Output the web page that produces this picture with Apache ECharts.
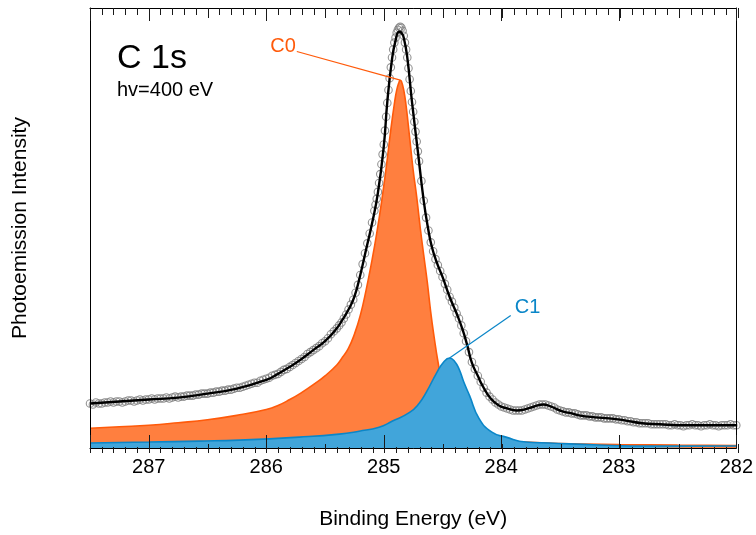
<!DOCTYPE html>
<html>
<head>
<meta charset="utf-8">
<script src="https://cdn.jsdelivr.net/npm/echarts@6/dist/echarts.min.js"></script>
<style>
  html, body { margin: 0; padding: 0; background: #fff; }
  #main { width: 756px; height: 535px; }
</style>
</head>
<body>
<div id="main"></div>
<script>
// C 1s core-level spectrum, hv = 400 eV
// Binding energy (eV) and intensity (arb. units)

// Measured points
const measE = [
  287.500, 287.475, 287.450, 287.425, 287.400, 287.375, 287.350, 287.325, 287.300, 287.275,
  287.250, 287.225, 287.200, 287.175, 287.150, 287.125, 287.100, 287.075, 287.050, 287.025,
  287.000, 286.975, 286.950, 286.925, 286.900, 286.875, 286.850, 286.825, 286.800, 286.775,
  286.750, 286.725, 286.700, 286.675, 286.650, 286.625, 286.600, 286.575, 286.550, 286.525,
  286.500, 286.475, 286.450, 286.425, 286.400, 286.375, 286.350, 286.325, 286.300, 286.275,
  286.250, 286.225, 286.200, 286.175, 286.150, 286.125, 286.100, 286.075, 286.050, 286.025,
  286.000, 285.975, 285.950, 285.925, 285.900, 285.875, 285.850, 285.825, 285.800, 285.775,
  285.750, 285.725, 285.700, 285.675, 285.650, 285.625, 285.600, 285.575, 285.550, 285.525,
  285.500, 285.475, 285.450, 285.425, 285.400,
  285.38, 285.36, 285.34, 285.32, 285.30, 285.28, 285.26, 285.24, 285.22, 285.20,
  285.18, 285.16, 285.14, 285.12, 285.10, 285.08,
  285.07, 285.06, 285.05, 285.04, 285.03, 285.02, 285.01, 285.00, 284.99, 284.98,
  284.97, 284.96, 284.95, 284.94, 284.93, 284.92, 284.91, 284.90, 284.89, 284.88,
  284.87, 284.86, 284.85, 284.84, 284.83, 284.82, 284.81, 284.80, 284.79, 284.78,
  284.77, 284.76, 284.75, 284.74, 284.73, 284.72, 284.71, 284.70,
  284.68, 284.66, 284.64, 284.62, 284.60, 284.58, 284.56, 284.54, 284.52, 284.50,
  284.48, 284.46, 284.44, 284.42, 284.40, 284.38, 284.36, 284.34, 284.32, 284.30,
  284.275, 284.250, 284.225, 284.200, 284.175, 284.150, 284.125, 284.100, 284.075, 284.050,
  284.025, 284.000, 283.975, 283.950, 283.925, 283.900, 283.875, 283.850, 283.825, 283.800,
  283.775, 283.750, 283.725, 283.700, 283.675, 283.650, 283.625, 283.600, 283.575, 283.550,
  283.525, 283.500, 283.475, 283.450, 283.425, 283.400, 283.375, 283.350, 283.325, 283.300,
  283.275, 283.250, 283.225, 283.200, 283.175, 283.150, 283.125, 283.100, 283.075, 283.050,
  283.025, 283.000, 282.975, 282.950, 282.925, 282.900, 282.875, 282.850, 282.825, 282.800,
  282.775, 282.750, 282.725, 282.700, 282.675, 282.650, 282.625, 282.600, 282.575, 282.550,
  282.525, 282.500, 282.475, 282.450, 282.425, 282.400, 282.375, 282.350, 282.325, 282.300,
  282.275, 282.250, 282.225, 282.200, 282.175, 282.150, 282.125, 282.100, 282.075, 282.050,
  282.025, 282.000
];
const measI = [
  45, 44, 46, 45, 45, 46, 46, 47, 46, 47,
  47, 46, 47, 48, 48, 47, 48, 49, 48, 49,
  49, 50, 49, 50, 50, 50, 51, 50, 51, 52,
  51, 52, 52, 53, 53, 53, 54, 54, 55, 55,
  55, 56, 56, 57, 57, 58, 58, 59, 59, 60,
  61, 61, 62, 63, 64, 65, 66, 66, 68, 69,
  70, 71, 73, 74, 75, 77, 79, 80, 82, 84,
  86, 88, 90, 92, 95, 97, 99, 101, 103, 106,
  108, 111, 115, 118, 121,
  124, 127, 131, 135, 140, 145, 150, 157, 165, 175,
  186, 197, 207, 217, 228, 240,
  246, 252, 259, 268, 277, 287, 297, 307, 321, 335,
  349, 362, 374, 385, 395, 403, 410, 415, 420, 423,
  425, 426, 425, 422, 417, 410, 403, 395, 384, 373,
  361, 350, 340, 330, 320, 310, 300, 290,
  270, 250, 233, 220, 208, 199, 191, 185, 179, 173,
  166, 160, 153, 148, 142, 136, 131, 124, 116, 108,
  97, 87, 80, 73, 67, 61, 56, 52, 49, 46,
  44, 42, 41, 40, 39, 38, 38, 38, 38, 39,
  40, 41, 42, 43, 44, 44, 44, 43, 42, 41,
  39, 38, 37, 36, 36, 35, 35, 34, 33, 33,
  33, 32, 32, 31, 31, 31, 30, 30, 30, 30,
  29, 29, 28, 28, 27, 27, 26, 26, 25, 25,
  25, 25, 24, 24, 24, 24, 24, 24, 23, 23,
  24, 23, 23, 22, 23, 23, 24, 23, 23, 22,
  23, 23, 24, 23, 23, 22, 23, 23, 23, 24,
  23, 23
];

// Total fit envelope
const fitE = [
  287.50, 287.25, 287.00, 286.75, 286.50, 286.25, 286.00, 285.90, 285.80, 285.70,
  285.60, 285.50, 285.40, 285.35, 285.30, 285.25, 285.20, 285.15, 285.10, 285.05,
  285.00, 284.97, 284.93, 284.90, 284.87, 284.85, 284.83, 284.80, 284.76, 284.71,
  284.66, 284.62, 284.59, 284.55, 284.50, 284.44, 284.38, 284.33, 284.29, 284.25,
  284.20, 284.16, 284.09, 284.02, 283.95, 283.87, 283.80, 283.72, 283.64, 283.58,
  283.48, 283.40, 283.34, 283.20, 283.08, 282.95, 282.80, 282.65, 282.50, 282.25,
  282.00
];
const fitI = [
  45, 47, 49, 51, 55, 60, 69, 75, 82, 90,
  99, 108, 121, 130, 140, 153, 175, 201, 227, 258,
  305, 350, 393, 412, 421, 420, 415, 395, 350, 300,
  250, 220, 203, 188, 173, 153, 136, 120, 104, 86,
  73, 63, 50, 43, 40, 38, 39, 42, 44, 42,
  37, 35, 33, 31, 30, 28, 25, 24, 23, 23,
  23
];

// Component C0
const c0E = [
  287.50, 287.25, 287.00, 286.75, 286.50, 286.25, 286.00, 285.90, 285.80, 285.70,
  285.60, 285.50, 285.40, 285.35, 285.30, 285.25, 285.20, 285.15, 285.10, 285.06,
  285.02, 284.98, 284.94, 284.91, 284.89, 284.87, 284.86, 284.85, 284.83, 284.81,
  284.78, 284.75, 284.72, 284.69, 284.66, 284.63, 284.60, 284.57, 284.54, 284.50,
  284.45, 284.40, 284.33, 284.25, 284.15, 284.00, 283.80, 283.50, 283.00, 282.50,
  282.00
];
const c0I = [
  20, 21.5, 23, 25.5, 28.5, 33, 39, 43, 49, 56,
  64, 73, 84, 92, 101, 115, 134, 160, 190, 217,
  248, 283, 322, 348, 362, 370, 372, 371, 362, 346,
  314, 281, 254, 223, 195, 168, 137, 111, 88, 64,
  45, 33, 23, 16, 11, 8, 6, 4.5, 3.5, 3,
  2.5
];

// Component C1
const c1E = [
  287.50, 287.00, 286.57, 286.23, 285.72, 285.38, 285.21, 285.04, 284.93, 284.78,
  284.70, 284.64, 284.55, 284.49, 284.44, 284.40, 284.36, 284.32, 284.27, 284.19,
  284.08, 283.96, 283.79, 283.59, 283.17, 282.74, 282.00
];
const c1I = [
  5, 6, 7, 8, 11, 14, 17, 21, 27, 36,
  45, 56, 76, 87, 91, 88, 80, 67, 53, 30,
  16, 11, 6, 5, 3, 2, 2
];

// Axis settings
const eMin = 282, eMax = 287.5;
const iMin = 0, iMax = 445;
const majorStep = 1, halfStep = 0.5, minorStep = 0.1;

const pairs = (xs, ys) => xs.map((x, i) => [x, ys[i]]);

const FONT = '"Liberation Sans", Arial, Helvetica, sans-serif';
const ORANGE_LINE = '#ff5a0a';
const ORANGE_FILL = '#ff7f3f';
const BLUE_LINE = '#0a86c8';
const BLUE_FILL = '#41a5da';
const TICK = '#1a1a1a';
const GRID_BOX = { left: 90, right: 18, top: 8, bottom: 82, containLabel: false };

// Axes sit on their own layer so the inward ticks stay visible over the filled peaks
const AXIS_LAYER = 1;

// One overlaid grid per tick level so each grid has a single bottom and top axis
function tickAxis(grid, pos, step, len, extra) {
  return Object.assign({
    type: 'value', gridIndex: grid, position: pos, min: eMin, max: eMax, inverse: true,
    interval: step, zlevel: AXIS_LAYER, z: 10,
    axisLine: { show: false, onZero: false },
    axisTick: { show: true, inside: true, length: len, lineStyle: { color: TICK, width: 1 } },
    axisLabel: { show: false },
    splitLine: { show: false }
  }, extra || {});
}
function hiddenY(grid) {
  return { type: 'value', gridIndex: grid, min: iMin, max: iMax, show: false };
}

const frameLine = { show: true, onZero: false, lineStyle: { color: '#000', width: 1 } };

const option = {
  animation: false,
  backgroundColor: '#ffffff',
  grid: [GRID_BOX, GRID_BOX, GRID_BOX],
  xAxis: [
    tickAxis(0, 'bottom', majorStep, 13, {
      axisLine: frameLine,
      axisLabel: {
        show: true, margin: 9, color: '#000', fontSize: 20, fontFamily: FONT,
        formatter: v => (Math.abs(v - Math.round(v)) < 1e-6 ? String(Math.round(v)) : '')
      },
      name: 'Binding Energy (eV)', nameLocation: 'middle', nameGap: 61,
      nameTextStyle: { color: '#000', fontSize: 21, fontFamily: FONT }
    }),
    tickAxis(0, 'top', majorStep, 13, { axisLine: frameLine }),
    tickAxis(1, 'bottom', halfStep, 9),
    tickAxis(1, 'top', halfStep, 10),
    tickAxis(2, 'bottom', minorStep, 6),
    tickAxis(2, 'top', minorStep, 7)
  ],
  yAxis: [
    {
      type: 'value', gridIndex: 0, position: 'left', min: iMin, max: iMax,
      zlevel: AXIS_LAYER, z: 10,
      axisLine: frameLine,
      axisTick: { show: false }, axisLabel: { show: false }, splitLine: { show: false },
      name: 'Photoemission Intensity', nameLocation: 'middle', nameGap: 59,
      nameTextStyle: { color: '#000', fontSize: 21, fontFamily: FONT }
    },
    {
      type: 'value', gridIndex: 0, position: 'right', min: iMin, max: iMax,
      zlevel: AXIS_LAYER, z: 10,
      axisLine: frameLine,
      axisTick: { show: false }, axisLabel: { show: false }, splitLine: { show: false }
    },
    hiddenY(1),
    hiddenY(2)
  ],
  series: [
    {
      name: 'C0', type: 'line', xAxisIndex: 0, yAxisIndex: 0, z: 1,
      data: pairs(c0E, c0I), smooth: 0.5, showSymbol: false, silent: true,
      lineStyle: { color: ORANGE_LINE, width: 1.6 },
      areaStyle: { color: ORANGE_FILL, opacity: 1, origin: 'start' }
    },
    {
      name: 'C1', type: 'line', xAxisIndex: 0, yAxisIndex: 0, z: 2,
      data: pairs(c1E, c1I), smooth: 0.5, showSymbol: false, silent: true,
      lineStyle: { color: BLUE_LINE, width: 1.6 },
      areaStyle: { color: BLUE_FILL, opacity: 1, origin: 'start' }
    },
    {
      name: 'data', type: 'scatter', xAxisIndex: 0, yAxisIndex: 0, z: 3,
      data: pairs(measE, measI), symbol: 'circle', symbolSize: 7.5, silent: true,
      itemStyle: { color: 'rgba(0,0,0,0)', borderColor: '#787878', borderWidth: 1.1 }
    },
    {
      name: 'fit', type: 'line', xAxisIndex: 0, yAxisIndex: 0, z: 4,
      data: pairs(fitE, fitI), smooth: 0.5, showSymbol: false, silent: true,
      lineStyle: { color: '#000', width: 2.4 }
    }
  ]
};

const chart = echarts.init(document.getElementById('main'), null, { renderer: 'canvas' });
chart.setOption(option);

// Peak labels with leader lines, anchored in data coordinates
function peakOf(xs, ys) {
  let k = 0;
  ys.forEach((v, i) => { if (v > ys[k]) k = i; });
  return [xs[k], ys[k]];
}
const toPx = p => chart.convertToPixel({ seriesIndex: 0 }, p);
const c0Peak = toPx(peakOf(c0E, c0I));
const c1Peak = toPx(peakOf(c1E, c1I));
const c0Anchor = toPx([285.74, 401]);
const c1Anchor = toPx([283.92, 134]);

chart.setOption({
  graphic: [
    { type: 'line', z: 10, shape: { x1: c0Anchor[0], y1: c0Anchor[1], x2: c0Peak[0], y2: c0Peak[1] },
      style: { stroke: ORANGE_LINE, lineWidth: 1.2 } },
    { type: 'line', z: 10, shape: { x1: c1Anchor[0], y1: c1Anchor[1], x2: c1Peak[0], y2: c1Peak[1] },
      style: { stroke: BLUE_LINE, lineWidth: 1.2 } },
    { type: 'text', z: 10, x: c0Anchor[0] - 1, y: c0Anchor[1] - 5,
      style: { text: 'C0', fill: ORANGE_LINE, fontSize: 20, fontFamily: FONT, align: 'right', verticalAlign: 'middle' } },
    { type: 'text', z: 10, x: c1Anchor[0] + 4, y: c1Anchor[1] - 8,
      style: { text: 'C1', fill: BLUE_LINE, fontSize: 20, fontFamily: FONT, align: 'left', verticalAlign: 'middle' } },
    { type: 'text', z: 10, x: 117, y: 58.5,
      style: { text: 'C 1s', fill: '#000', fontSize: 34, fontFamily: FONT, align: 'left', verticalAlign: 'middle' } },
    { type: 'text', z: 10, x: 117, y: 90,
      style: { text: 'hv=400 eV', fill: '#000', fontSize: 20, fontFamily: FONT, align: 'left', verticalAlign: 'middle' } }
  ]
});
</script>
</body>
</html>
